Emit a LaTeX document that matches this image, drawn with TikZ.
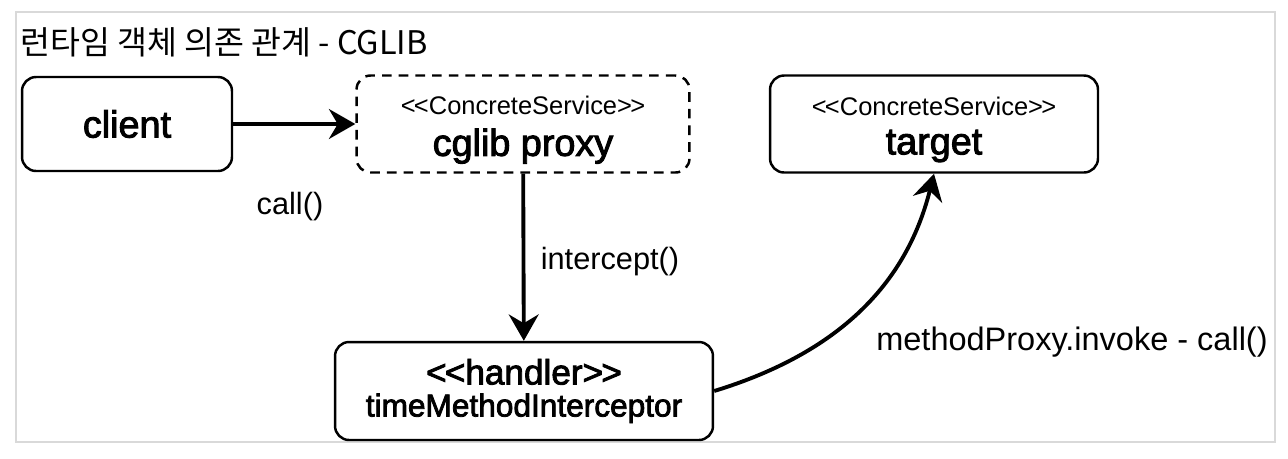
\documentclass[tikz,border=0pt]{standalone}
\usepackage{fontspec}
\setmainfont{Liberation Sans}
\newfontfamily\krfont{Noto Sans CJK KR}
\newfontface\medfont{Liberation Sans}[FakeBold=2.5]
\usetikzlibrary{arrows.meta}
% stereotype line, << >> kept apart so they stay two signs
\newcommand{\stereo}[2]{{\fontsize{#2}{#2}\selectfont\rule{0pt}{17pt}<\kern-1pt<#1>\kern-1pt>}}
\newcommand{\bigname}[1]{{\medfont\fontsize{21.5}{24}\selectfont #1}}

\begin{document}
\begin{tikzpicture}[x=0.02cm,y=-0.02cm,
  box/.style={draw,line width=1.4pt,rounded corners=8pt,align=center,inner sep=0pt},
  call/.style={line width=2.2pt,-{Stealth[length=15pt,width=17pt,inset=5pt]}},
  lbl/.style={font=\fontsize{17.5}{20}\selectfont,inner sep=0pt}]
\useasboundingbox (0,0) rectangle (1288,458);

% frame and title
\draw[black!15,line width=1.2pt] (16,12) rectangle (1275,442);
\node[anchor=west,inner sep=0pt,font=\krfont\fontsize{18.5}{20}\selectfont] (title) at (20,42) {런타임 객체 의존 관계 - CGLIB};

% objects
\node[box,minimum width=4.2cm,minimum height=1.88cm] (client) at (127,124) {\bigname{client}};
\node[box,dashed,dash pattern=on 5.5pt off 4pt,minimum width=6.66cm,minimum height=1.94cm] (proxy) at (523,124)
  {\stereo{ConcreteService}{14.5}\\[7pt]\bigname{cglib proxy}};
\node[box,minimum width=6.56cm,minimum height=1.94cm] (target) at (934,124)
  {\stereo{ConcreteService}{14.5}\\[7pt]\bigname{target}};
\node[box,minimum width=7.56cm,minimum height=1.96cm] (handler) at (524,391)
  {\medfont\fontsize{20}{20}\selectfont <\kern-1pt<handler>\kern-1pt>\\[4pt]\medfont\fontsize{18}{20}\selectfont timeMethodInterceptor};

% calls
\draw[call] (client) -- (proxy);
\draw[call] (proxy) -- (handler);
\draw[call] (handler.east) to[out=17,in=-104] (target.south);

% labels
\node[lbl] (calllbl) at (290,207) {call()};
\node[lbl] (icptlbl) at (610,262) {intercept()};
\node[lbl,font=\fontsize{18.5}{20}\selectfont] (invklbl) at (1072,342) {methodProxy.invoke - call()};
\end{tikzpicture}
\end{document}
